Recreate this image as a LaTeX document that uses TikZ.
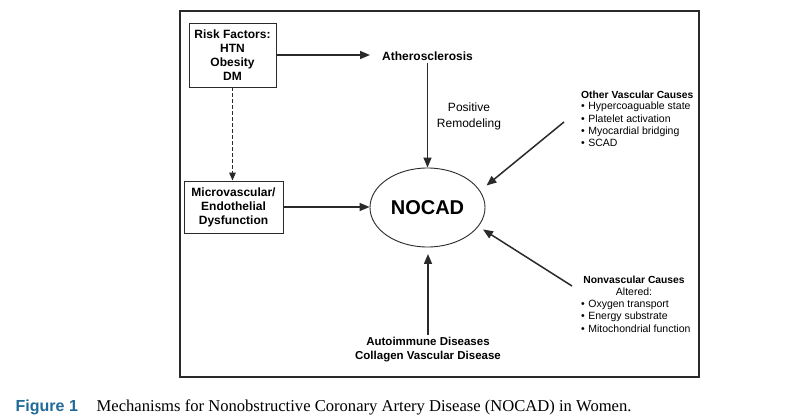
\documentclass[tikz,border=0pt]{standalone}
\usepackage{fontspec}
\setmainfont{Liberation Serif}
\setsansfont{Liberation Sans}
\usetikzlibrary{shapes.geometric,arrows.meta}
\definecolor{framegray}{HTML}{2A2A2A}
\definecolor{figblue}{HTML}{1F6A99}
\begin{document}
\begin{tikzpicture}[x=1pt,y=-1pt,
  every node/.style={font=\sffamily, text=black, inner sep=0pt},
  boxnode/.style={draw=framegray, line width=0.9pt, align=center,
    font=\sffamily\bfseries\fontsize{12}{14}\selectfont},
  boldtxt/.style={font=\sffamily\bfseries\fontsize{12}{14}\selectfont, align=center},
  smallhead/.style={font=\sffamily\bfseries\fontsize{10.3}{12}\selectfont},
  smalltxt/.style={font=\sffamily\fontsize{10.5}{12.3}\selectfont, align=left},
  arr/.style={draw=framegray, line width=1.5pt, -{Triangle[length=10pt,width=8pt]}},
  dasharr/.style={draw=framegray, line width=1.4pt, dash pattern=on 3.5pt off 2.5pt, -{Triangle[length=8pt,width=6.5pt]}}
]
\useasboundingbox (0,0) rectangle (808,419);
\fill[white] (0,0) rectangle (808,419);
% frame
\draw[framegray, line width=2pt] (180,11) rectangle (699,377);

% nodes
\node[boxnode, minimum width=87pt, minimum height=64pt] (risk) at (232.5,55)
  {Risk Factors:\\HTN\\Obesity\\DM};
\node[boldtxt, inner sep=2pt] (ather) at (427.5,56) {Atherosclerosis};
\node[boxnode, minimum width=99pt, minimum height=52pt] (micro) at (233.5,207)
  {Microvascular/\\Endothelial\\Dysfunction};
\node[draw=framegray, line width=0.9pt, ellipse, minimum width=115pt, minimum height=79pt,
  font=\sffamily\bfseries\fontsize{20}{24}\selectfont] (nocad) at (427.5,207.5) {NOCAD};
\node[font=\sffamily\fontsize{12}{16}\selectfont, align=center] (posrem) at (469,116)
  {Positive\\Remodeling};

\node[smallhead, anchor=west] (othhead) at (581,94.5) {Other Vascular Causes};
\node[smalltxt, anchor=north west] (othlist) at (581,102)
  {\textbullet\hspace{3.5pt}Hypercoaguable state\\
   \textbullet\hspace{3.5pt}Platelet activation\\
   \textbullet\hspace{3.5pt}Myocardial bridging\\
   \textbullet\hspace{3.5pt}SCAD};

\node[smallhead] (nonhead) at (634,280) {Nonvascular Causes};
\node[font=\sffamily\fontsize{10.5}{12}\selectfont] (altered) at (634,292) {Altered:};
\node[smalltxt, anchor=north west] (nonlist) at (581,300)
  {\textbullet\hspace{3.5pt}Oxygen transport\\
   \textbullet\hspace{3.5pt}Energy substrate\\
   \textbullet\hspace{3.5pt}Mitochondrial function};

\node[font=\sffamily\bfseries\fontsize{11.5}{14}\selectfont, align=center, inner sep=2pt] (auto) at (428,349.5)
  {Autoimmune Diseases\\Collagen Vascular Disease};

% free connector ends
\coordinate (atherin) at (370,55);
\coordinate (ovs) at (564,122);
\coordinate (ove) at (486.5,185.5);
\coordinate (nvs) at (572,286);
\coordinate (nve) at (483,229.5);
\coordinate (autoend) at (428,254);

% connectors
\draw[arr] (risk.east |- atherin) -- (atherin);
\draw[arr] (ather.south) -- (nocad.north);
\draw[dasharr] (risk.south) -- (risk.south |- micro.north);
\draw[arr] (micro.east) -- (micro.east -| nocad.west);
\draw[arr] (ovs) -- (ove);
\draw[arr] (nvs) -- (nve);
\draw[arr] (auto.north) -- (autoend);

% caption
\node[anchor=base west, font=\sffamily\bfseries\fontsize{16}{18}\selectfont, text=figblue] (figlabel) at (15.5,411.5) {Figure 1};
\node[anchor=base west, font=\rmfamily\fontsize{16.6}{18}\selectfont] (caption) at (96.5,411.5)
  {Mechanisms for Nonobstructive Coronary Artery Disease (NOCAD) in Women.};
\end{tikzpicture}
\end{document}
